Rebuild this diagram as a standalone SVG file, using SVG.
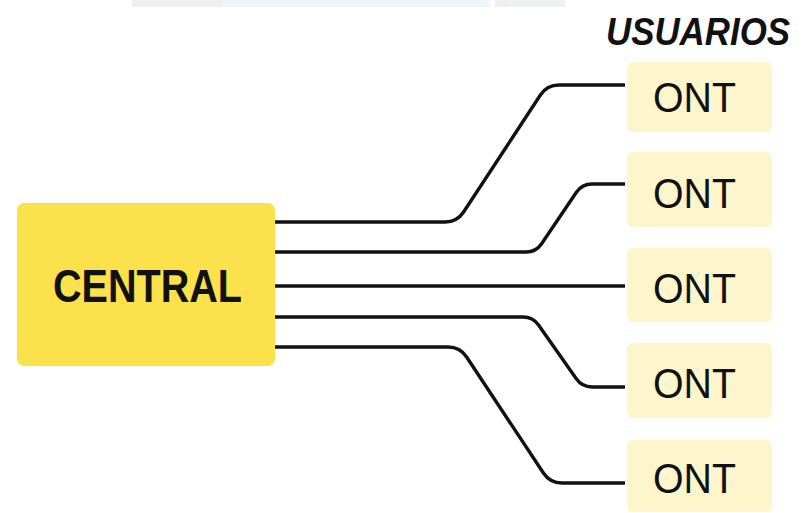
<svg xmlns="http://www.w3.org/2000/svg" width="804" height="513" viewBox="0 0 804 513">
  <defs>
    <style>
      .central { fill: #fbe14c; }
      .ont-box { fill: #fdf5cc; }
      .label { font-family: "Liberation Sans", Arial, sans-serif; fill: #111; }
      .central-txt { font-size: 46px; font-weight: bold; }
      .ont-txt { font-size: 43px; }
      .title { font-size: 38px; font-weight: bold; font-style: italic; }
      .wire { fill: none; stroke: #111; stroke-width: 3.4; stroke-linejoin: round; }
    </style>
  </defs>

  <rect width="804" height="513" fill="#ffffff"/>

  <!-- faint strip along the top edge -->
  <g id="top-strip" opacity="0.45">
    <rect x="132" y="0" width="90" height="7" fill="#dcdde2"/>
    <rect x="222" y="0" width="268" height="7" fill="#dde9f3"/>
    <rect x="495" y="0" width="70" height="7" fill="#dcdde2"/>
  </g>

  <text class="label title" x="606" y="45" textLength="184" lengthAdjust="spacingAndGlyphs">USUARIOS</text>

  <!-- connectors -->
  <g id="connectors">
    <path class="wire" d="M275,222 H445 Q457,222 463.6,212 L540.4,95 Q547,85 559,85 H625"/>
    <path class="wire" d="M275,252 H526 Q536,252 541.6,243.7 L576.4,192.3 Q582,184 592,184 H625"/>
    <path class="wire" d="M275,286 H625"/>
    <path class="wire" d="M275,317 H523 Q533,317 538.7,325.2 L576.3,378.8 Q582,387 592,387 H625"/>
    <path class="wire" d="M275,347 H448 Q460,347 466.6,357 L543.4,473 Q550,483 562,483 H625"/>
  </g>

  <g id="central">
    <rect class="central" x="17" y="203" width="258" height="163" rx="7"/>
    <text class="label central-txt" x="147.5" y="302" text-anchor="middle" textLength="189" lengthAdjust="spacingAndGlyphs">CENTRAL</text>
  </g>

  <g id="ont1">
    <rect class="ont-box" x="627" y="62" width="145" height="70" rx="6"/>
    <text class="label ont-txt" x="653" y="112" textLength="83" lengthAdjust="spacingAndGlyphs">ONT</text>
  </g>
  <g id="ont2">
    <rect class="ont-box" x="627" y="152" width="145" height="75" rx="6"/>
    <text class="label ont-txt" x="653" y="208" textLength="83" lengthAdjust="spacingAndGlyphs">ONT</text>
  </g>
  <g id="ont3">
    <rect class="ont-box" x="627" y="248" width="145" height="74" rx="6"/>
    <text class="label ont-txt" x="653" y="303" textLength="83" lengthAdjust="spacingAndGlyphs">ONT</text>
  </g>
  <g id="ont4">
    <rect class="ont-box" x="627" y="343" width="145" height="75" rx="6"/>
    <text class="label ont-txt" x="653" y="398" textLength="83" lengthAdjust="spacingAndGlyphs">ONT</text>
  </g>
  <g id="ont5">
    <rect class="ont-box" x="627" y="440" width="145" height="72" rx="6"/>
    <text class="label ont-txt" x="653" y="493" textLength="83" lengthAdjust="spacingAndGlyphs">ONT</text>
  </g>
</svg>
